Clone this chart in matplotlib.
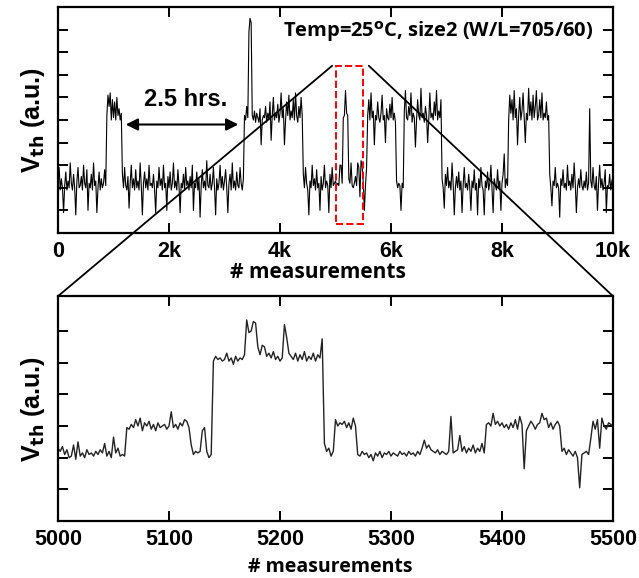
import numpy as np
import matplotlib.pyplot as plt
from matplotlib.patches import Rectangle, ConnectionPatch

# full record, one reading every 20 measurements
full_x = np.arange(0, 10001, 20)
full_vth = [
    2.2, 2.9, 1.9, 2.4, 2.0, 0.9, 2.1, 2.7, 1.9, 2.3,
    2.0, 3.1, 2.2, 1.9, 2.6, 2.0, 0.8, 2.3, 2.9, 2.0,
    2.1, 2.5, 1.9, 3.0, 2.2, 2.0, 2.8, 1.0, 2.2, 2.0,
    2.6, 1.9, 3.1, 2.1, 2.3, 0.9, 2.0, 2.7, 1.9, 2.4,
    2.0, 2.2, 2.8, 2.1, 5.2, 6.1, 5.6, 6.2, 5.0, 5.9,
    5.1, 5.8, 5.0, 6.0, 5.2, 5.5, 5.0, 5.3, 2.6, 2.0,
    2.9, 2.1, 1.9, 2.5, 1.1, 2.2, 3.0, 2.0, 2.4, 1.9,
    2.8, 2.0, 2.3, 1.9, 3.1, 2.1, 0.8, 2.2, 2.7, 2.0,
    2.4, 1.9, 3.0, 2.1, 2.2, 2.0, 2.6, 1.9, 0.9, 2.3,
    2.0, 2.9, 2.1, 2.4, 1.9, 3.0, 2.0, 2.2, 1.0, 2.5,
    2.0, 2.7, 1.9, 2.2, 3.1, 2.0, 2.3, 1.9, 2.8, 2.1,
    0.9, 2.2, 2.0, 2.6, 1.9, 2.9, 2.1, 2.3, 1.9, 2.5,
    2.0, 3.0, 1.0, 2.2, 2.0, 2.7, 1.9, 2.4, 0.7, 2.1,
    2.8, 2.0, 2.3, 1.9, 3.2, 2.1, 2.0, 2.6, 1.9, 2.2,
    2.9, 2.0, 0.8, 2.4, 1.9, 2.2, 3.0, 2.0, 2.5, 1.9,
    2.3, 2.8, 2.0, 0.9, 2.2, 2.6, 1.9, 3.1, 2.0, 2.3,
    1.9, 2.7, 2.1, 2.0, 2.9, 2.2, 1.9, 2.4, 5.2, 5.0,
    5.6, 5.1, 8.9, 9.5, 9.3, 5.2, 5.0, 5.4, 4.9, 5.3,
    5.1, 4.9, 5.5, 3.9, 5.0, 5.2, 5.1, 5.6, 4.9, 5.3,
    5.0, 5.8, 4.1, 5.2, 6.0, 5.0, 5.3, 5.1, 5.7, 4.9,
    5.3, 6.2, 5.1, 5.5, 3.9, 5.0, 5.8, 5.2, 6.1, 5.0,
    5.4, 5.1, 5.9, 5.0, 6.2, 5.2, 4.9, 5.6, 5.1, 6.0,
    5.2, 2.6, 2.0, 2.9, 2.2, 1.9, 0.8, 2.3, 2.0, 3.0,
    2.1, 2.4, 1.9, 2.8, 2.0, 2.2, 1.0, 2.5, 1.9, 2.2,
    3.0, 2.0, 2.3, 2.1, 0.9, 2.6, 2.0, 2.9, 2.1, 2.2,
    2.3, 2.1, 2.2, 2.1, 3.0, 3.0, 2.2, 5.1, 5.2, 6.3,
    5.3, 5.2, 2.4, 2.2, 3.1, 2.1, 2.0, 2.2, 2.5, 2.1,
    3.1, 2.9, 1.6, 3.2, 3.0, 2.2, 1.0, 2.1, 2.9, 5.2,
    5.9, 5.0, 6.2, 5.1, 5.4, 3.9, 5.2, 5.0, 5.8, 5.1,
    4.9, 5.3, 6.1, 5.0, 5.2, 4.0, 5.5, 5.1, 5.0, 5.7,
    5.1, 6.0, 5.0, 5.3, 4.9, 2.3, 2.0, 2.2, 2.1, 1.0,
    2.2, 2.0, 5.4, 6.3, 5.1, 5.0, 5.6, 5.2, 6.2, 4.9,
    5.3, 5.1, 3.8, 5.0, 5.9, 5.2, 5.0, 6.4, 5.1, 5.3,
    4.9, 5.6, 5.2, 4.0, 5.0, 6.2, 5.1, 5.3, 5.0, 5.8,
    5.2, 6.3, 5.0, 5.4, 5.1, 5.9, 2.4, 2.0, 1.1, 2.6,
    2.1, 2.9, 2.0, 2.3, 1.9, 3.1, 2.2, 0.8, 2.0, 2.5,
    2.0, 2.7, 1.9, 2.3, 0.9, 2.1, 2.9, 2.0, 2.2, 1.9,
    2.6, 2.0, 1.0, 2.3, 2.0, 2.8, 1.9, 2.2, 0.8, 2.4,
    2.0, 2.9, 2.1, 1.9, 0.8, 2.3, 2.0, 2.7, 1.9, 2.2,
    3.0, 2.0, 0.9, 2.4, 2.1, 1.9, 2.8, 2.0, 2.3, 1.0,
    2.2, 2.6, 3.5, 2.0, 2.4, 2.1, 5.0, 6.1, 5.3, 5.9,
    5.0, 6.3, 5.1, 5.5, 3.9, 5.2, 6.0, 5.0, 5.4, 6.2,
    5.1, 4.0, 5.3, 5.0, 6.4, 5.2, 5.8, 5.0, 6.1, 5.1,
    5.6, 6.3, 5.0, 5.2, 5.9, 5.1, 6.2, 5.0, 5.3, 5.1,
    5.8, 5.0, 5.2, 2.6, 2.0, 1.2, 2.3, 2.1, 2.9, 2.0,
    2.2, 2.0, 0.7, 2.4, 2.1, 2.8, 2.0, 2.2, 1.9, 3.0,
    2.1, 2.3, 1.9, 2.6, 2.0, 3.1, 2.2, 0.9, 2.0, 2.4,
    2.0, 2.8, 2.1, 1.9, 2.3, 2.0, 2.7, 1.9, 2.2, 5.5,
    2.3, 2.0, 2.9, 2.1, 1.9, 2.5, 1.0, 2.2, 3.0, 2.0,
    2.4, 1.9, 2.2, 2.8, 0.9, 2.1, 2.0, 2.6, 1.9, 2.3,
    2.5,
]

# zoomed window 5000-5500, one reading every 2 measurements
zoom_x = np.arange(5000, 5501, 2)
zoom_vth = [
    2.3, 2.2, 2.35, 2.1, 2.25, 2.0, 2.05, 2.4, 1.95, 2.5,
    2.05, 2.15, 2.0, 2.25, 2.1, 2.15, 2.05, 2.2, 2.1, 2.25,
    2.15, 2.45, 2.05, 2.2, 2.0, 2.65, 2.15, 2.3, 2.05, 2.1,
    2.05, 2.95, 2.9, 3.05, 2.95, 3.2, 3.0, 3.25, 2.85, 3.1,
    3.0, 3.15, 2.9, 3.05, 2.85, 3.1, 2.95, 3.0, 3.05, 2.9,
    3.0, 3.45, 2.95, 3.05, 2.9, 3.1, 3.0, 3.2, 3.15, 2.95,
    2.4, 2.1, 2.2, 2.15, 2.2, 2.85, 2.95, 2.2, 2.0, 2.1,
    5.05, 5.2, 5.1, 5.15, 5.05, 5.1, 5.3, 5.05, 5.15, 4.95,
    5.2, 5.05, 5.15, 5.1, 5.25, 6.35, 5.95, 6.0, 6.3, 6.25,
    5.5, 5.25, 5.55, 5.5, 5.2, 5.3, 5.15, 5.35, 5.1, 5.2,
    5.05, 5.15, 6.2, 5.8, 5.3, 5.2, 5.1, 5.3, 5.05, 5.25,
    5.1, 5.35, 5.05, 5.2, 5.1, 5.3, 5.05, 5.25, 5.15, 5.75,
    2.45, 2.2, 2.3, 2.05, 2.2, 3.2, 3.0, 3.1, 3.05, 3.15,
    2.95, 3.1, 2.9, 3.25, 3.0, 2.1, 2.05, 2.2, 2.1, 2.15,
    2.0, 2.1, 1.9, 2.15, 2.05, 2.2, 2.0, 2.15, 2.1, 2.2,
    2.05, 2.15, 2.1, 2.05, 2.2, 2.1, 2.15, 2.05, 2.2, 2.1,
    2.15, 2.05, 2.2, 2.1, 2.3, 2.55, 2.3, 2.4, 2.25, 2.2,
    2.15, 2.25, 2.1, 2.2, 2.15, 2.1, 2.2, 3.3, 2.15, 2.2,
    2.25, 2.7, 2.2, 2.35, 2.15, 2.3, 2.2, 2.4, 2.15, 2.3,
    2.2, 2.45, 2.15, 3.05, 3.1, 3.0, 3.4, 3.05, 3.15, 3.0,
    3.1, 2.95, 3.05, 2.9, 3.1, 2.95, 3.2, 2.9, 3.3, 3.05,
    1.65, 2.85, 3.0, 3.15, 3.05, 2.9, 3.05, 3.1, 3.4, 3.2,
    3.25, 2.95, 3.1, 2.9, 3.05, 3.15, 3.0, 2.2, 2.3, 2.1,
    2.25, 2.15, 2.05, 2.2, 2.0, 1.05, 2.1, 2.15, 2.2, 2.1,
    2.6, 3.15, 2.9, 3.2, 2.3, 3.25, 3.0, 2.9, 3.1, 3.05,
    3.0,
]

full_ticks = [0, 2000, 4000, 6000, 8000, 10000]
full_ticklabels = ["0", "2k", "4k", "6k", "8k", "10k"]
zoom_ticks = [5000, 5100, 5200, 5300, 5400, 5500]

ARIAL = "Liberation Sans"
CALIBRI = "Open Sans"


def style_axes(ax):
    for s in ax.spines.values():
        s.set_linewidth(1.6)
    ax.tick_params(direction="in", length=7, width=1.4, top=True, right=True,
                   labelleft=False, pad=6)
    for lab in ax.get_xticklabels():
        lab.set_fontfamily(ARIAL)
        lab.set_fontweight("bold")
        lab.set_fontsize(15.5)
    ax.set_ylabel("V$_{\\mathbf{th}}$ (a.u.)", fontfamily=ARIAL,
                  fontweight="bold", fontsize=18, labelpad=8)


fig = plt.figure(figsize=(6.39, 5.78), dpi=100)
ax1 = fig.add_axes([0.0908, 0.5969, 0.8685, 0.391])
ax2 = fig.add_axes([0.0908, 0.0986, 0.8685, 0.389])

ax1.plot(full_x, full_vth, color="black", lw=0.8)
ax1.set_xlim(0, 10000)
ax1.set_ylim(0, 10)
ax1.set_yticks(range(1, 10))
ax1.set_xticks(full_ticks)
ax1.set_xticklabels(full_ticklabels)
style_axes(ax1)
ax1.set_xlabel("# measurements", fontfamily=CALIBRI, fontweight="bold",
               fontsize=15, labelpad=0)
ax1.xaxis.set_label_coords(0.468, -0.13)

ax1.add_patch(Rectangle((5000, 0.4), 500, 7.0, fill=False, ec="red",
                        ls="--", lw=1.4, zorder=5))
ax1.annotate("", xy=(1170, 4.8), xytext=(3300, 4.8),
             arrowprops=dict(arrowstyle="<|-|>", color="black", lw=1.5,
                             mutation_scale=18))
ax1.text(2300, 5.9, "2.5 hrs.", ha="center", va="center", fontfamily=ARIAL,
         fontweight="bold", fontsize=17)
ax1.text(9650, 8.9, "Temp=25$^{\\mathbf{o}}$C, size2 (W/L=705/60)", ha="right",
         va="center", fontfamily=CALIBRI, fontweight="bold", fontsize=14.5)

ax2.plot(zoom_x, zoom_vth, color="#222222", lw=1.0)
ax2.set_xlim(5000, 5500)
ax2.set_ylim(0, 7.1)
ax2.set_yticks(range(1, 7))
ax2.set_xticks(zoom_ticks)
style_axes(ax2)
ax2.set_xlabel("# measurements", fontfamily=CALIBRI, fontweight="bold",
               fontsize=14, labelpad=0)
ax2.xaxis.set_label_coords(0.49, -0.16)

for xa, xb in [(4940, 0), (5600, 1)]:
    con = ConnectionPatch(xyA=(xa, 7.4), coordsA="data", axesA=ax1,
                          xyB=(xb, 1), coordsB="axes fraction", axesB=ax2,
                          color="black", lw=1.3, zorder=6)
    fig.add_artist(con)

plt.savefig("out.png", dpi=100)
plt.close()
